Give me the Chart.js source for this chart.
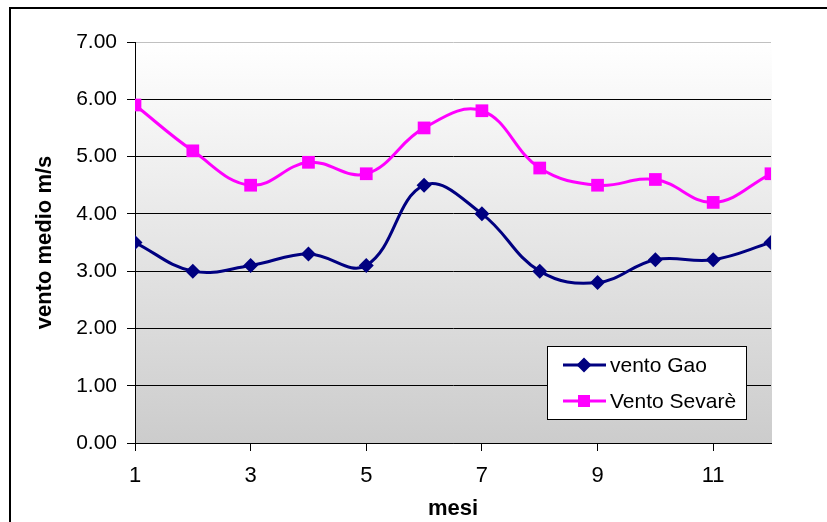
<!DOCTYPE html>
<html>
<head>
<meta charset="utf-8">
<script src="https://cdn.jsdelivr.net/npm/chart.js@4/dist/chart.umd.min.js"></script>
<style>
html, body { margin: 0; padding: 0; background: #fff; }
#wrap { width: 827px; height: 522px; }
</style>
</head>
<body>
<div id="wrap"><canvas id="myChart" width="827" height="522"></canvas></div>
<script>
const mesi = [1, 2, 3, 4, 5, 6, 7, 8, 9, 10, 11, 12]
const ventoGao = [3.5, 3.0, 3.1, 3.3, 3.1, 4.5, 4.0, 3.0, 2.8, 3.2, 3.2, 3.5]
const ventoSevare = [5.9, 5.1, 4.5, 4.9, 4.7, 5.5, 5.8, 4.8, 4.5, 4.6, 4.2, 4.7]
const serieNomi = ['vento Gao', 'Vento Sevarè']
const xTickValues = [1, 3, 5, 7, 9, 11]

const gaoColor = '#000080'
const sevareColor = '#ff00ff'
const fontName = 'Arial, "Liberation Sans", sans-serif'

function toPoints(values) {
	return values.map(function (v, i) { return { x: mesi[i], y: v } })
}

// sfondo sfumato dell'area del grafico + cornice esterna
const backgroundPlugin = {
	id: 'sfondo',
	beforeDraw(chart) {
		const ctx = chart.ctx
		const a = chart.chartArea
		ctx.save()
		const g = ctx.createLinearGradient(0, a.top, 0, a.bottom)
		g.addColorStop(0, '#ffffff')
		g.addColorStop(1, '#cccccc')
		ctx.fillStyle = g
		ctx.fillRect(a.left, a.top, a.right - a.left + 1, a.bottom - a.top)
		ctx.strokeStyle = '#000'
		ctx.lineWidth = 2
		ctx.strokeRect(10, 8, 830, 530)
		ctx.restore()
	}
}

// legenda disegnata nel riquadro come in Excel
const legendPlugin = {
	id: 'legendaBox',
	afterDatasetsDraw(chart) {
		const ctx = chart.ctx
		ctx.save()
		ctx.fillStyle = '#fff'
		ctx.fillRect(547, 346, 199, 73)
		ctx.strokeStyle = '#000'
		ctx.lineWidth = 1
		ctx.strokeRect(547.5, 346.5, 199, 73)
		const rows = [365, 401]
		chart.data.datasets.forEach(function (ds, i) {
			const y = rows[i]
			ctx.strokeStyle = ds.borderColor
			ctx.lineWidth = 3
			ctx.beginPath()
			ctx.moveTo(563, y)
			ctx.lineTo(606, y)
			ctx.stroke()
			ctx.fillStyle = ds.borderColor
			ctx.beginPath()
			if (ds.pointStyle === 'rectRot') {
				ctx.moveTo(584, y - 7.5); ctx.lineTo(591.5, y); ctx.lineTo(584, y + 7.5); ctx.lineTo(576.5, y)
			} else {
				ctx.rect(578, y - 6, 12, 12)
			}
			ctx.closePath()
			ctx.fill()
			ctx.fillStyle = '#000'
			ctx.font = '21px ' + fontName
			ctx.textBaseline = 'middle'
			ctx.fillText(ds.label, 610, y + 1)
		})
		ctx.restore()
	}
}

const ctx = document.getElementById('myChart')
const lineChart = new Chart(ctx, {
	type: 'line',
	data: {
		datasets: [{
			label: serieNomi[0],
			data: toPoints(ventoGao),
			borderColor: gaoColor,
			backgroundColor: gaoColor,
			borderWidth: 3,
			tension: 0.4,
			pointStyle: 'rectRot',
			pointRadius: 7.5,
			pointBorderWidth: 0
		}, {
			label: serieNomi[1],
			data: toPoints(ventoSevare),
			borderColor: sevareColor,
			backgroundColor: sevareColor,
			borderWidth: 3,
			tension: 0.4,
			pointStyle: 'rect',
			pointRadius: 9,
			pointBorderWidth: 0
		}]
	},
	options: {
		responsive: false,
		animation: false,
		devicePixelRatio: 1,
		layout: { padding: { left: 0, top: 42, right: 56, bottom: 0 } },
		plugins: {
			legend: { display: false },
			tooltip: { enabled: false }
		},
		scales: {
			x: {
				type: 'linear',
				min: 1,
				max: 12,
				afterFit(scale) { scale.height = 79 },
				afterBuildTicks(scale) {
					scale.ticks = xTickValues.map(function (v) { return { value: v } })
				},
				ticks: {
					color: '#000',
					font: { family: fontName, size: 22 },
					padding: 12,
					maxRotation: 0,
					callback: function (v) { return v }
				},
				grid: { drawOnChartArea: false, drawTicks: true, tickLength: 8, tickColor: '#000' },
				border: { color: '#000', width: 1 },
				title: {
					display: true,
					text: 'mesi',
					color: '#000',
					font: { family: fontName, size: 22, weight: 'bold' },
					padding: { top: 0, bottom: 0 }
				}
			},
			y: {
				min: 0,
				max: 7,
				afterFit(scale) { scale.width = 135 },
				ticks: {
					stepSize: 1,
					color: '#000',
					font: { family: fontName, size: 21 },
					padding: 10,
					callback: function (v) { return v.toFixed(2) }
				},
				grid: {
					color: function (c) { return c.tick && c.tick.value === 7 ? '#c0c0c0' : '#000' },
					lineWidth: 1,
					tickLength: 8,
					tickColor: '#000'
				},
				border: { color: '#000', width: 1 },
				title: {
					display: true,
					text: 'vento medio m/s',
					color: '#000',
					font: { family: fontName, size: 22, weight: 'bold' },
					padding: { top: 32, bottom: 0 }
				}
			}
		}
	},
	plugins: [backgroundPlugin, legendPlugin]
})
</script>
</body>
</html>
